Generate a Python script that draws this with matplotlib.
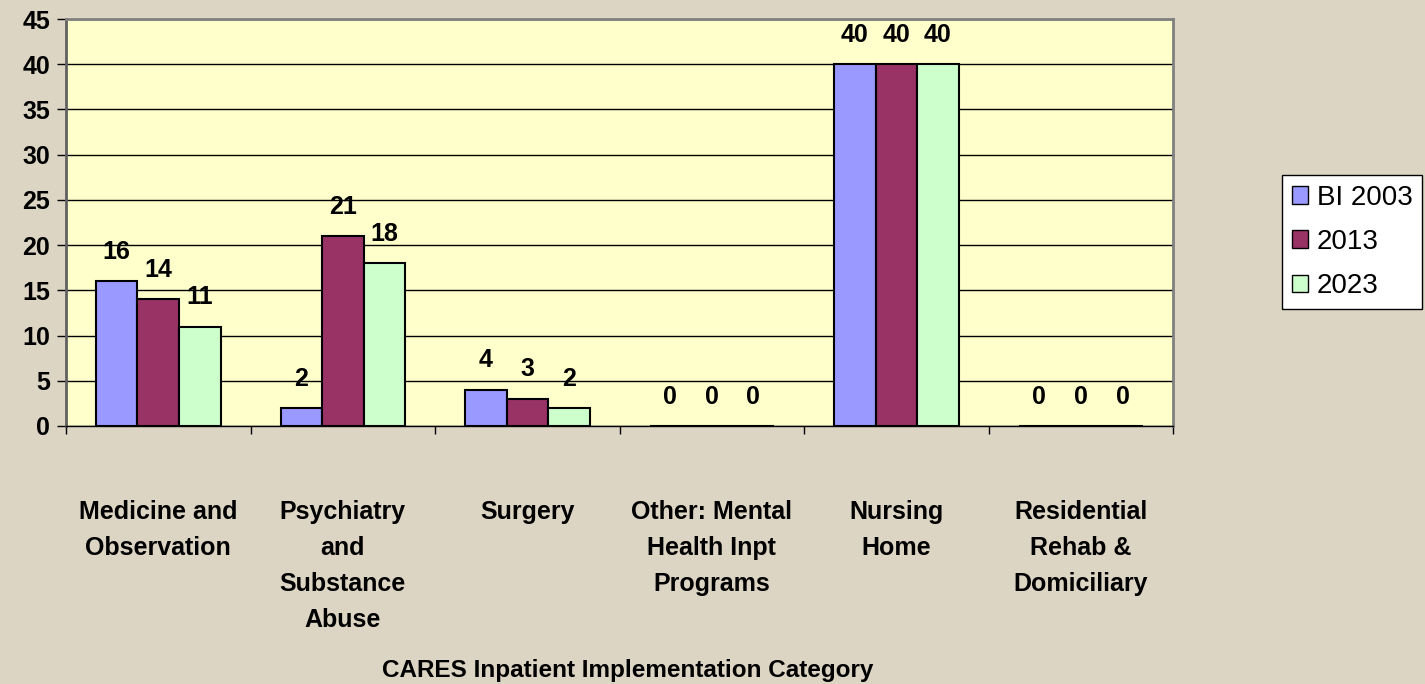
import numpy as np
import matplotlib.pyplot as plt
from matplotlib.patches import Patch

plt.rcParams['font.family'] = ['Liberation Sans', 'DejaVu Sans']

categories = ["Medicine and\nObservation", "Psychiatry\nand\nSubstance\nAbuse", "Surgery",
              "Other: Mental\nHealth Inpt\nPrograms", "Nursing\nHome", "Residential\nRehab &\nDomiciliary"]
series_names = ["BI 2003", "2013", "2023"]
bi2003 = [16, 2, 4, 0, 40, 0]
y2013 = [14, 21, 3, 0, 40, 0]
y2023 = [11, 18, 2, 0, 40, 0]
colors = ['#9999FF', '#993366', '#CCFFCC']

fig = plt.figure(figsize=(14.25, 6.84), dpi=100)
fig.patch.set_facecolor('#DDD5C4')
ax = fig.add_axes([0.0463, 0.3772, 0.777, 0.595])
ax.set_facecolor('#FFFFCC')

x = np.arange(len(categories))
w = 0.225
for i, (vals, c) in enumerate(zip([bi2003, y2013, y2023], colors)):
    xs = x + (i - 1) * w
    ax.bar(xs, vals, width=w, color=c, edgecolor='black', linewidth=1.5, zorder=3)
    for xi, v in zip(xs, vals):
        ax.text(xi, v + 3.25, str(v), ha='center', va='center',
                fontsize=18, fontweight='bold', zorder=4)

ax.set_xlim(-0.5, len(categories) - 0.5)
ax.set_ylim(0, 45)
ax.set_yticks(np.arange(0, 46, 5))
ax.yaxis.grid(True, color='black', linewidth=1)
ax.set_axisbelow(True)
ax.tick_params(axis='y', length=6.5, width=1, labelsize=18, pad=5)
for lab in ax.get_yticklabels():
    lab.set_fontweight('bold')

ax.set_xticks(x)
ax.set_xticklabels(categories, fontsize=18, fontweight='bold', linespacing=1.63, va='top')
ax.tick_params(axis='x', which='major', length=0, pad=53)
ax.set_xticks(np.arange(-0.5, len(categories), 1), minor=True)
ax.tick_params(axis='x', which='minor', length=6, width=1)

for s in ['top', 'right']:
    ax.spines[s].set_color('#808080')
    ax.spines[s].set_linewidth(2)
ax.spines['left'].set_color('#606060')
ax.spines['left'].set_linewidth(2)
ax.spines['bottom'].set_color('black')
ax.spines['bottom'].set_linewidth(1)

fig.text(0.4407, 0.0102, "CARES Inpatient Implementation Category", fontsize=17.5,
         fontweight='bold', ha='center', va='baseline')

handles = [Patch(facecolor=c, edgecolor='black', label=n) for c, n in zip(colors, series_names)]
leg = fig.legend(handles=handles, loc='upper left', bbox_to_anchor=(0.8996, 0.7442),
                 fontsize=20, frameon=True, fancybox=False, handlelength=0.6,
                 handleheight=0.6, handletextpad=0.3, labelspacing=0.66,
                 borderpad=0.35, borderaxespad=0, framealpha=1)
leg.get_frame().set_edgecolor('black')
leg.get_frame().set_facecolor('white')
leg.get_frame().set_linewidth(1)

fig.savefig('out.png', dpi=100, facecolor=fig.get_facecolor())
